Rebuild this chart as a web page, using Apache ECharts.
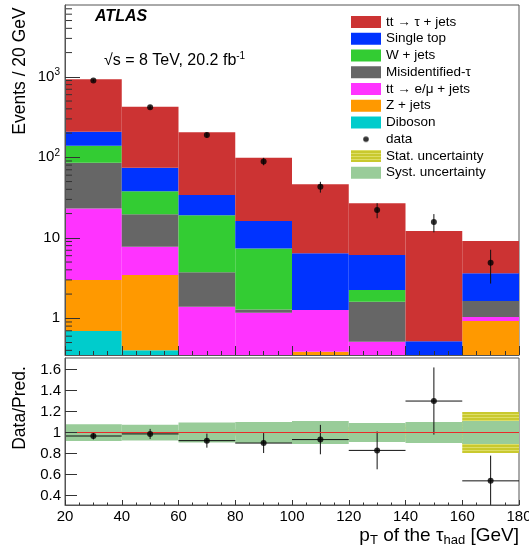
<!DOCTYPE html>
<html>
<head>
<meta charset="utf-8">
<script src="https://cdn.jsdelivr.net/npm/echarts@6/dist/echarts.min.js"></script>
<style>
html, body { margin: 0; padding: 0; background: #fff; }
#chart { width: 529px; height: 553px; }
</style>
</head>
<body>
<div id="chart"></div>
<script>
// bins of the tau pT histogram (GeV)
const binEdges = [20, 40, 60, 80, 100, 120, 140, 160, 180];

// expected events per process, per bin
const ttTau     = [723, 351, 171, 82.7, 39.8, 20.7, 11.6, 5.5];
const singleTop = [69, 36.5, 15, 8.8, 5.15, 3.86, 0.52, 1.98];
const wJets     = [53.3, 18.2, 15.3, 6.1, 0, 0.64, 0, 0];
const misidTau  = [62.5, 11.85, 2.34, 0.12, 0, 1.10, 0, 0.60];
const ttLep     = [20.2, 4.3, 1.39, 1.17, 0.885, 0.51, 0, 0.115];
const zJets     = [2.30, 3.05, 0, 0, 0.385, 0, 0, 0.925];
const diboson   = [0.695, 0.40, 0, 0, 0, 0, 0, 0];

// observed data
const dataVals = [900, 419, 189, 89, 43, 22.2, 15.7, 4.9];
const dataErr  = [30, 20.5, 13.7, 9.4, 6.6, 4.7, 4.0, 2.2];

// ratio panel
const ratioVals = [0.967, 0.987, 0.923, 0.90, 0.933, 0.83, 1.30, 0.54];
const ratioErr  = [0.033, 0.048, 0.067, 0.095, 0.14, 0.18, 0.32, 0.24];
const statUnc   = [0.012, 0.018, 0.025, 0.035, 0.05, 0.06, 0.08, 0.195];
const systUnc   = [0.08, 0.075, 0.095, 0.10, 0.11, 0.09, 0.10, 0.11];

// log axis minor tick values
const yMinorTicks = [0.4, 0.5, 0.6, 0.7, 0.8, 0.9, 2, 3, 4, 5, 6, 7, 8, 9,
  20, 30, 40, 50, 60, 70, 80, 90, 200, 300, 400, 500, 600, 700, 800, 900,
  2000, 3000, 4000, 5000, 6000, 7000];

const processNames = ['Diboson', 'Z + jets', 'tt \u2192 e/\u03bc + jets', 'Misidentified-\u03c4',
  'W + jets', 'Single top', 'tt \u2192 \u03c4 + jets'];
const processVals = [diboson, zJets, ttLep, misidTau, wJets, singleTop, ttTau];
const processColors = ['#00cccc', '#ff9900', '#ff33ff', '#666666', '#33cc33', '#0033ff', '#cc3333'];

const Y_MIN = 0.35, Y_MAX = 7800;
const FONT = 'Liberation Sans';

// stacked boxes: [x0, x1, low, high]
const cum = binEdges.slice(1).map(() => 0);
const stackData = processVals.map(vals => {
    const out = [];
    vals.forEach((v, i) => {
        const lo = cum[i];
        cum[i] += v;
        if (v > 0) out.push([binEdges[i], binEdges[i + 1], Math.max(lo, Y_MIN), cum[i]]);
    });
    return out;
});

const centers = binEdges.slice(1).map((e, i) => (e + binEdges[i]) / 2);

// yellow hatch for the stat band
const hatch = document.createElement('canvas');
hatch.width = 6; hatch.height = 3;
const hctx = hatch.getContext('2d');
hctx.fillStyle = '#c9c92e'; hctx.fillRect(0, 0, 6, 3);
hctx.fillStyle = '#dede66'; hctx.fillRect(0, 0, 6, 1);

// small dot for the "data" legend entry
const dot = document.createElement('canvas');
dot.width = 30; dot.height = 12;
const dctx = dot.getContext('2d');
dctx.fillStyle = '#000';
dctx.beginPath(); dctx.arc(15, 6, 2.8, 0, Math.PI * 2); dctx.fill();

function renderBox(params, api) {
    const p0 = api.coord([api.value(0), api.value(3)]);
    const p1 = api.coord([api.value(1), api.value(2)]);
    return {
        type: 'rect',
        shape: { x: p0[0], y: p0[1], width: p1[0] - p0[0], height: p1[1] - p0[1] },
        style: { fill: api.visual('color') }
    };
}

function clampY(params, y) {
    const cs = params.coordSys;
    return Math.min(Math.max(y, cs.y), cs.y + cs.height);
}

// [xc, lo, hi, x0, x1]
function renderErr(params, api) {
    const top = api.coord([api.value(0), api.value(2)]);
    const bot = api.coord([api.value(0), api.value(1)]);
    const children = [{
        type: 'line',
        shape: { x1: top[0], y1: clampY(params, top[1]), x2: bot[0], y2: clampY(params, bot[1]) },
        style: { stroke: '#111', lineWidth: 1 }
    }];
    if (api.value(3) != null && !isNaN(api.value(3))) {
        const mid = (api.value(1) + api.value(2)) / 2;
        const l = api.coord([api.value(3), mid]);
        const r = api.coord([api.value(4), mid]);
        children.push({
            type: 'line',
            shape: { x1: l[0], y1: l[1], x2: r[0], y2: r[1] },
            style: { stroke: '#111', lineWidth: 1 }
        });
    }
    return { type: 'group', children };
}

function renderMinorTick(params, api) {
    const p = api.coord([api.value(0), api.value(1)]);
    return {
        type: 'line',
        shape: { x1: p[0], y1: p[1], x2: p[0] + 7, y2: p[1] },
        style: { stroke: '#333', lineWidth: 1 }
    };
}

const series = [];
processNames.forEach((name, k) => {
    series.push({
        name, type: 'custom', xAxisIndex: 0, yAxisIndex: 0,
        renderItem: renderBox,
        itemStyle: { color: processColors[k] },
        encode: { x: [0, 1], y: [2, 3] },
        data: stackData[k],
        z: 2 + k * 0.01
    });
});

series.push({
    name: 'minor', type: 'custom', xAxisIndex: 0, yAxisIndex: 0,
    renderItem: renderMinorTick, silent: true,
    encode: { x: 0, y: 1 },
    data: yMinorTicks.map(v => [binEdges[0], v]),
    z: 6
});

series.push({
    name: 'dataErr', type: 'custom', xAxisIndex: 0, yAxisIndex: 0,
    renderItem: renderErr,
    encode: { x: 0, y: [1, 2] },
    data: dataVals.map((v, i) => [centers[i], v - dataErr[i], v + dataErr[i]]),
    z: 4
});
series.push({
    name: 'data', type: 'scatter', xAxisIndex: 0, yAxisIndex: 0,
    symbol: 'circle', symbolSize: 6,
    itemStyle: { color: '#000' },
    data: dataVals.map((v, i) => [centers[i], v]),
    z: 5
});

series.push({
    name: 'Stat. uncertainty', type: 'custom', xAxisIndex: 1, yAxisIndex: 1,
    renderItem: renderBox,
    itemStyle: { color: { image: hatch, repeat: 'repeat' } },
    encode: { x: [0, 1], y: [2, 3] },
    data: statUnc.map((s, i) => [binEdges[i], binEdges[i + 1], 1 - s, 1 + s]),
    z: 2
});
series.push({
    name: 'Syst. uncertainty', type: 'custom', xAxisIndex: 1, yAxisIndex: 1,
    renderItem: renderBox,
    itemStyle: { color: '#99cc99' },
    encode: { x: [0, 1], y: [2, 3] },
    data: systUnc.map((s, i) => [binEdges[i], binEdges[i + 1], 1 - s, 1 + s]),
    markLine: {
        silent: true, symbol: 'none', label: { show: false },
        lineStyle: { color: '#e82a2a', width: 1.2, type: 'solid' },
        data: [{ yAxis: 1 }]
    },
    z: 3
});
series.push({
    name: 'ratioErr', type: 'custom', xAxisIndex: 1, yAxisIndex: 1,
    renderItem: renderErr,
    encode: { x: 0, y: [1, 2] },
    data: ratioVals.map((v, i) => [centers[i], v - ratioErr[i], v + ratioErr[i], binEdges[i], binEdges[i + 1]]),
    z: 4
});
series.push({
    name: 'ratio', type: 'scatter', xAxisIndex: 1, yAxisIndex: 1,
    symbol: 'circle', symbolSize: 6,
    itemStyle: { color: '#000' },
    data: ratioVals.map((v, i) => [centers[i], v]),
    z: 5
});

const legendNames = processNames.slice().reverse();
const legendData = legendNames.map(n => ({ name: n, icon: 'rect' }));
legendData.push({ name: 'data', icon: 'image://' + dot.toDataURL() });
legendData.push({ name: 'Stat. uncertainty', icon: 'rect' });
legendData.push({ name: 'Syst. uncertainty', icon: 'rect' });

const chart = echarts.init(document.getElementById('chart'), null, { renderer: 'canvas' });

const frame = '#555';
chart.setOption({
    animation: false,
    textStyle: { fontFamily: FONT },
    grid: [
        { left: 65, top: 5, width: 454, height: 350, show: true, borderColor: frame, borderWidth: 1,
          containLabel: false, outerBoundsMode: 'none' },
        { left: 65, top: 358, width: 454, height: 147, show: true, borderColor: frame, borderWidth: 1,
          containLabel: false, outerBoundsMode: 'none' }
    ],
    xAxis: [
        { gridIndex: 0, type: 'value', min: 20, max: 180, interval: 20, z: 10,
          axisLine: { show: true, lineStyle: { color: frame } },
          axisTick: { inside: true, length: 9, lineStyle: { color: '#333' } },
          minorTick: { show: true, splitNumber: 4, length: 4, lineStyle: { color: '#333' } },
          axisLabel: { show: false }, splitLine: { show: false } },
        { gridIndex: 1, type: 'value', min: 20, max: 180, interval: 20, z: 10,
          axisLine: { show: true, lineStyle: { color: frame } },
          axisTick: { inside: true, length: 5, lineStyle: { color: '#333' } },
          minorTick: { show: true, splitNumber: 4, length: 2.5, lineStyle: { color: '#333' } },
          axisLabel: { fontSize: 15, color: '#000', margin: 4 }, splitLine: { show: false } }
    ],
    yAxis: [
        { gridIndex: 0, type: 'log', logBase: 10, min: Y_MIN, max: Y_MAX, z: 10,
          axisLine: { show: true, lineStyle: { color: frame } },
          axisTick: { inside: true, length: 15, lineStyle: { color: '#333' } },
          splitLine: { show: false },
          axisLabel: {
              fontSize: 15, color: '#000', margin: 5,
              showMinLabel: false, showMaxLabel: false,
              formatter: v => {
                  const e = Math.round(Math.log10(v));
                  return e >= 2 ? '10{s|' + e + '}' : String(Math.pow(10, e));
              },
              rich: { s: { fontSize: 10, padding: [0, 0, 9, 0] } }
          } },
        { gridIndex: 1, type: 'value', min: 0.31, max: 1.71, splitNumber: 7, z: 10,
          axisLine: { show: true, lineStyle: { color: frame } },
          axisTick: { inside: true, length: 12, lineStyle: { color: '#333' } },
          splitLine: { show: false },
          axisLabel: { fontSize: 15, color: '#000', margin: 4, showMinLabel: false, showMaxLabel: false } }
    ],
    legend: {
        orient: 'vertical', left: 351, top: 15, padding: 0,
        itemWidth: 30, itemHeight: 12, itemGap: 2.75, selectedMode: false,
        textStyle: { fontSize: 13.5, color: '#000', fontFamily: FONT },
        data: legendData
    },
    graphic: [
        { type: 'text', x: 95, y: 17, z: 20,
          style: { text: 'ATLAS', font: 'italic bold 16px "Liberation Sans"', fill: '#000', verticalAlign: 'middle' } },
        { type: 'text', x: 104, y: 61, z: 20,
          style: { text: '\u221as = 8 TeV, 20.2 fb{sup|-1}', font: '16px "Liberation Sans"', fill: '#000',
                   verticalAlign: 'middle',
                   rich: { sup: { fontSize: 10, padding: [0, 0, 10, 0] } } } },
        { type: 'text', x: 20, y: 71, rotation: Math.PI / 2, z: 20,
          style: { text: 'Events / 20 GeV', font: '17.5px "Liberation Sans"', fill: '#000',
                   align: 'center', verticalAlign: 'middle' } },
        { type: 'text', x: 20, y: 408, rotation: Math.PI / 2, z: 20,
          style: { text: 'Data/Pred.', font: '17.5px "Liberation Sans"', fill: '#000',
                   align: 'center', verticalAlign: 'middle' } },
        { type: 'text', x: 519, y: 536, z: 20,
          style: { text: 'p{sub|T} of the \u03c4{sub|had} [GeV]', font: '19px "Liberation Sans"', fill: '#000',
                   align: 'right', verticalAlign: 'middle',
                   rich: { sub: { fontSize: 13, padding: [9, 0, 0, 0] } } } }
    ],
    series
});
</script>
</body>
</html>
